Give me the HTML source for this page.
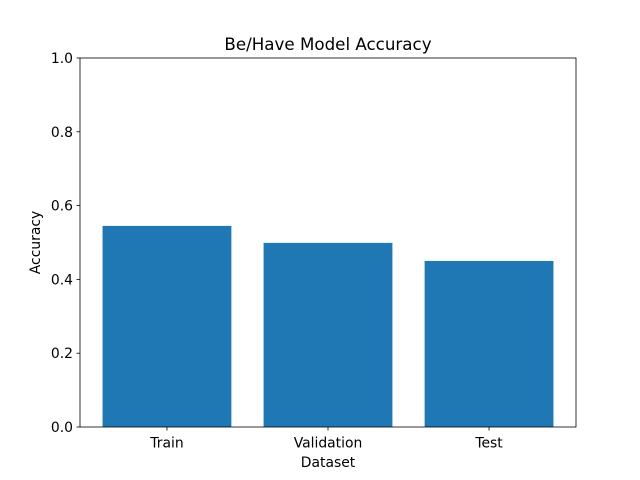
<!DOCTYPE html>
<html><head><meta charset="utf-8"><style>
body{margin:0;background:#fff}
svg{display:block;font-family:"DejaVu Sans","Liberation Sans",sans-serif}
</style></head><body>
<svg id="chart" width="640" height="480"></svg>
<script>
const categories = ["Train", "Validation", "Test"];
const accuracyValues = [0.545, 0.499, 0.45];
const yTickLabels = ["0.0", "0.2", "0.4", "0.6", "0.8", "1.0"];
const yTickValues = [0, 0.2, 0.4, 0.6, 0.8, 1.0];

const NS = "http://www.w3.org/2000/svg";
const svg = document.getElementById("chart");
const L = 80, R = 576, T = 58, B = 427;
const xMin = -0.54, xMax = categories.length - 1 + 0.54;
const xs = v => L + (v - xMin) / (xMax - xMin) * (R - L);
const ys = v => B - v * (B - T);
function mk(tag, attrs, text) {
  const e = document.createElementNS(NS, tag);
  for (const k in attrs) e.setAttribute(k, attrs[k]);
  if (text !== undefined) e.textContent = text;
  svg.appendChild(e);
  return e;
}
categories.forEach((c, i) => {
  const r = mk("rect", {x: xs(i - 0.4), y: ys(accuracyValues[i]), width: xs(i + 0.4) - xs(i - 0.4), height: B - ys(accuracyValues[i]), fill: "#1f77b4"});
  
  
  const t = mk("line", {x1: xs(i), x2: xs(i), y1: B, y2: B + 3.5, stroke: "#000", "stroke-width": 0.8});
  
  
  const l = mk("text", {x: xs(i), y: B + 20.5, "text-anchor": "middle", "font-size": 13.9}, c);
  
  
});
yTickValues.forEach((v, i) => {
  const t = mk("line", {x1: L - 3.5, x2: L, y1: ys(v), y2: ys(v), stroke: "#000", "stroke-width": 0.8});
  
  
  const l = mk("text", {x: L - 7, y: ys(v) + 5, "text-anchor": "end", "font-size": 13.9}, yTickLabels[i]);
  
  
});
const frame = mk("rect", {x: L, y: T, width: R - L, height: B - T, fill: "none", stroke: "#000", "stroke-width": 0.8});


const title = mk("text", {x: (L + R) / 2, y: T - 8, "text-anchor": "middle", "font-size": 16.7}, "Be/Have Model Accuracy");


const xt = mk("text", {x: (L + R) / 2, y: 467, "text-anchor": "middle", "font-size": 13.9}, "Dataset");


const yt = mk("text", {x: 0, y: 0, "text-anchor": "middle", "font-size": 13.9, transform: "translate(40," + (T + B) / 2 + ") rotate(-90)"}, "Accuracy");


</script>
</body></html>
